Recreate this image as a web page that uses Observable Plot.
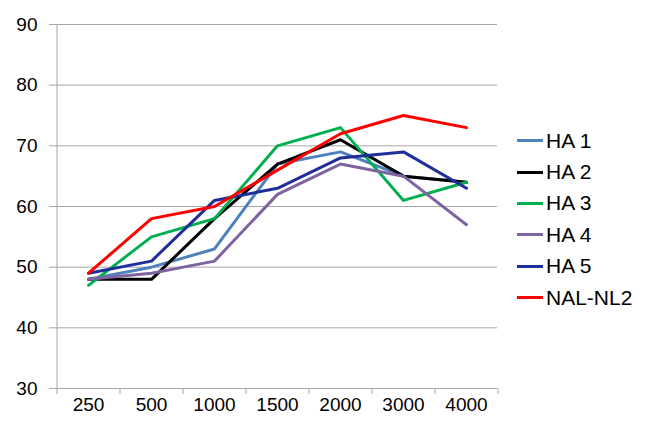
<!DOCTYPE html>
<html><head><meta charset="utf-8">
<script src="https://cdn.jsdelivr.net/npm/d3@7"></script>
<script src="https://cdn.jsdelivr.net/npm/@observablehq/plot@0.6"></script>
<style>
body{margin:0;background:#fff;font-family:"Liberation Sans",Arial,sans-serif;}
#wrap{position:relative;width:654px;height:439px;}
#wrap svg{display:block;}
#legend{position:absolute;left:517px;top:125px;font-size:21px;color:#000;}
.row{display:flex;align-items:center;height:31.4px;white-space:nowrap;}
.sw{width:26px;height:3px;margin-right:3px;}
</style></head><body><div id="wrap"><div id="legend"></div></div>
<script>
const frequencies = ["250","500","1000","1500","2000","3000","4000"];
const seriesNames = ["HA 1","HA 2","HA 3","HA 4","HA 5","NAL-NL2"];
const ha1 = [48,50,53,67,69,65,64];
const ha2 = [48,48,58,67,71,65,64];
const ha3 = [47,55,58,70,73,61,64];
const ha4 = [48,49,51,62,67,65,57];
const ha5 = [49,51,61,63,68,69,63];
const nalnl2 = [49,58,60,66,72,75,73];
const seriesColors = ["#4f81bd","#000000","#00b050","#8064a2","#1f2f9a","#ff0000"];
const yTicks = [30,40,50,60,70,80,90];

const seriesValues = [ha1,ha2,ha3,ha4,ha5,nalnl2];
const data = [];
seriesNames.forEach((s,i)=>frequencies.forEach((f,j)=>data.push({series:s,freq:f,value:seriesValues[i][j]})));

const axisGray = "#a6a6a6";
const half = 31.5;

const chart = Plot.plot({
  width:654, height:439,
  marginLeft:56, marginRight:157, marginTop:24, marginBottom:51,
  style:{fontFamily:"'Liberation Sans', Arial, sans-serif", fontSize:"19px", color:"#000", background:"#fff"},
  x:{type:"point", domain:frequencies, padding:0.5, label:null},
  y:{domain:[30,90], label:null},
  color:{domain:seriesNames, range:seriesColors},
  marks:[
    Plot.gridY(yTicks, {stroke:axisGray, strokeOpacity:1}),
    Plot.ruleX([frequencies[0]], {x:d=>d, dx:-half, stroke:axisGray}),
    Plot.ruleX(frequencies, {x:d=>d, y1:30, y2:30, dx:-half, insetBottom:-6, stroke:axisGray}),
    Plot.ruleX([frequencies[frequencies.length-1]], {x:d=>d, y1:30, y2:30, dx:half, insetBottom:-6, stroke:axisGray}),
    Plot.axisY(yTicks, {tickSize:7, tickPadding:12, stroke:axisGray, fill:"#000", label:null}),
    Plot.axisX({tickSize:0, tickPadding:9, fill:"#000", label:null}),
    Plot.lineY(data, {x:"freq", y:"value", z:"series", stroke:"series", strokeWidth:3})
  ]
});
const wrap = document.getElementById("wrap");
wrap.insertBefore(chart, wrap.firstChild);

const legend = d3.select("#legend");
seriesNames.forEach((s,i)=>{
  const r = legend.append("div").attr("class","row");
  r.append("div").attr("class","sw").style("background", seriesColors[i]);
  r.append("span").text(s);
});
</script></body></html>
